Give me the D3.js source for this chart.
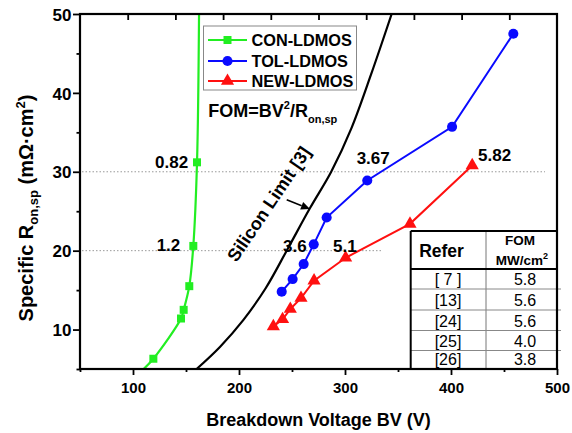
<!DOCTYPE html>
<html><head><meta charset="utf-8">
<script src="https://cdn.jsdelivr.net/npm/d3@7"></script>
<style>body{margin:0;background:#fff} svg{display:block;font-family:"Liberation Sans",Arial,sans-serif}</style>
</head><body><svg id="c" width="572" height="433"></svg>
<script>
// ---- data ----
const conBV = [110, 119.2, 145.3, 147.8, 153.1, 156.9, 160.4, 162.3];
const conR  = [5, 6.3, 11.4, 12.5, 15.5, 20.6, 31.2, 50];
const conMarker = [false, true, true, true, true, true, true, false];
const tolBV = [240.3, 250.6, 261, 270.5, 282.7, 321, 401, 458.8];
const tolR  = [14.8, 16.4, 18.3, 20.8, 24.2, 28.9, 35.7, 47.5];
const newBV = [232.4, 241.1, 248.4, 258.5, 270.8, 300.6, 361.3, 420];
const newR  = [10.4, 11.3, 12.6, 14.0, 16.2, 19.1, 23.4, 30.8];
const siBV = [160, 182, 204, 225, 245, 267, 287, 306, 325, 344];
const siR  = [5, 7.8, 11.2, 15.2, 20, 25.4, 30, 35.5, 42.5, 50];
const seriesNames = ["CON-LDMOS", "TOL-LDMOS", "NEW-LDMOS"];
const xTicks = [100, 200, 300, 400, 500];
const xMinor = [50, 150, 250, 350, 450];
const yTicks = [10, 20, 30, 40, 50];
const yMinor = [5, 15, 25, 35, 45];
const topTicks = [95, 140, 185, 230, 275, 320, 365, 410, 455];
const annText = ["0.82", "1.2", "3.67", "3.6", "5.1", "5.82"];
const annBV   = [120.8, 122.3, 311, 241.5, 288.7, 425.5];
const annR    = [30.5, 20.0, 31.0, 19.85, 19.85, 31.4];
const refLines = [30, 20];
const tableRefs = ["[ 7 ]", "[13]", "[24]", "[25]", "[26]"];
const tableFOM  = ["5.8", "5.6", "5.6", "4.0", "3.8"];

const GREEN = "#22ee22", BLUE = "#0a0aff", RED = "#ff1010";

const svg = d3.select("#c");
const L = 80, R = 557, T = 14, B = 369;
const x = d3.scaleLinear().domain([50, 500]).range([L, R]);
const y = d3.scaleLinear().domain([5, 50]).range([B, T]);

// reference dotted lines
const refEndV = [x.invert(545), x.invert(383)];
refLines.forEach((v, i) => {
  svg.append("line").attr("x1", x(50) + 2).attr("x2", x(refEndV[i]))
    .attr("y1", y(v)).attr("y2", y(v))
    .attr("stroke", "#999").attr("stroke-width", 1).attr("stroke-dasharray", "1.5,2");
});

// silicon limit
const siData = siBV.map((v, i) => [v, siR[i]]);
svg.append("path").datum(siData)
  .attr("d", d3.line().x(d => x(d[0])).y(d => y(d[1])).curve(d3.curveCatmullRom))
  .attr("fill", "none").attr("stroke", "#000").attr("stroke-width", 2.2);

// series
const conData = conBV.map((v, i) => [v, conR[i], conMarker[i]]);
const tolData = tolBV.map((v, i) => [v, tolR[i], true]);
const newData = newBV.map((v, i) => [v, newR[i], true]);

svg.append("clipPath").attr("id", "clp").append("rect")
  .attr("x", L).attr("y", T).attr("width", R - L).attr("height", B - T);

svg.append("path").datum(conData).attr("clip-path", "url(#clp)")
  .attr("d", d3.line().x(d => x(d[0])).y(d => y(d[1])).curve(d3.curveCatmullRom))
  .attr("fill", "none").attr("stroke", GREEN).attr("stroke-width", 2.2);
svg.append("path").datum(tolData)
  .attr("d", d3.line().x(d => x(d[0])).y(d => y(d[1])))
  .attr("fill", "none").attr("stroke", BLUE).attr("stroke-width", 2);
svg.append("path").datum(newData)
  .attr("d", d3.line().x(d => x(d[0])).y(d => y(d[1])))
  .attr("fill", "none").attr("stroke", RED).attr("stroke-width", 2);

const sq = d3.symbol().type(d3.symbolSquare).size(64);
const ci = d3.symbol().type(d3.symbolCircle).size(80);
const tr = d3.symbol().type(d3.symbolTriangle).size(75);
svg.selectAll(".m1").data(conData.filter(d => d[2])).join("path")
  .attr("d", sq).attr("transform", d => `translate(${x(d[0])},${y(d[1])})`).attr("fill", GREEN);
svg.selectAll(".m2").data(tolData).join("path")
  .attr("d", ci).attr("transform", d => `translate(${x(d[0])},${y(d[1])})`).attr("fill", BLUE);
svg.selectAll(".m3").data(newData).join("path")
  .attr("d", tr).attr("transform", d => `translate(${x(d[0])},${y(d[1])})`).attr("fill", RED);

// arrow to silicon limit
const arrowFrom = [245, 26.45], arrowTo = [267, 25.27];
{
  const x1 = x(arrowFrom[0]), y1 = y(arrowFrom[1]), x2 = x(arrowTo[0]), y2 = y(arrowTo[1]);
  const ang = Math.atan2(y2 - y1, x2 - x1);
  const hl = 9, hw = 4;
  const bx = x2 - hl * Math.cos(ang), by = y2 - hl * Math.sin(ang);
  svg.append("line").attr("x1", x1).attr("y1", y1).attr("x2", bx).attr("y2", by)
    .attr("stroke", "#000").attr("stroke-width", 1.6);
  svg.append("path").attr("d", `M${x2},${y2}L${bx + hw * Math.sin(ang)},${by - hw * Math.cos(ang)}L${bx - hw * Math.sin(ang)},${by + hw * Math.cos(ang)}Z`)
    .attr("fill", "#000");
}

// silicon label
svg.append("text").attr("transform", "translate(274,207.5) rotate(-56)")
  .attr("text-anchor", "middle").attr("font-size", 18).attr("font-weight", "bold").text("Silicon Limit [3]");

// annotations
annText.forEach((t, i) => {
  svg.append("text").attr("x", x(annBV[i])).attr("y", y(annR[i]))
    .attr("font-size", 17).attr("font-weight", "bold").text(t);
});

// table
const tL = 410.7, tT = 231, tHB = 269, tC = 486;
const rowB = [289, 310, 330.5, 350.5, B];
const tg = svg.append("g");
tg.append("rect").attr("x", tL).attr("y", tT).attr("width", R - tL).attr("height", B - tT).attr("fill", "#fff");
tg.append("line").attr("x1", tC).attr("x2", tC).attr("y1", tT).attr("y2", B).attr("stroke", "#777").attr("stroke-width", 1);
rowB.slice(0, 4).forEach(v => tg.append("line").attr("x1", tL).attr("x2", R + 4).attr("y1", v).attr("y2", v).attr("stroke", "#888").attr("stroke-width", 1));
tg.append("line").attr("x1", tL).attr("x2", R).attr("y1", tHB).attr("y2", tHB).attr("stroke", "#000").attr("stroke-width", 2);
tg.append("line").attr("x1", tL).attr("x2", R).attr("y1", tT).attr("y2", tT).attr("stroke", "#000").attr("stroke-width", 2);
tg.append("line").attr("x1", tL).attr("x2", tL).attr("y1", tT).attr("y2", B).attr("stroke", "#000").attr("stroke-width", 2);
tg.append("text").attr("x", 441.5).attr("y", 256.5).attr("text-anchor", "middle").attr("font-size", 17.5).attr("font-weight", "bold").text("Refer");
tg.append("text").attr("x", 520).attr("y", 245).attr("text-anchor", "middle").attr("font-size", 13.5).attr("font-weight", "bold").text("FOM");
const mw = tg.append("text").attr("x", 522).attr("y", 265).attr("text-anchor", "middle").attr("font-size", 13.5).attr("font-weight", "bold");
mw.append("tspan").text("MW/cm");
mw.append("tspan").attr("font-size", 9).attr("dy", -6).text("2");
tableRefs.forEach((r, i) => {
  const base = rowB[i] - 4;
  tg.append("text").attr("x", 448).attr("y", base).attr("text-anchor", "middle").attr("font-size", 16).text(r);
  tg.append("text").attr("x", 525).attr("y", base).attr("text-anchor", "middle").attr("font-size", 16).text(tableFOM[i]);
});

// axes
const ax = svg.append("g").attr("transform", `translate(0,${B})`)
  .call(d3.axisBottom(x).tickValues(xTicks).tickSize(6).tickFormat(d3.format("d")));
svg.append("g").attr("transform", `translate(0,${B})`)
  .call(d3.axisBottom(x).tickValues(xMinor).tickSize(3).tickFormat(""));
ax.selectAll("text").attr("y", 24).attr("dy", 0).attr("font-size", 15).attr("font-weight", "bold")
  .attr("fill", "#000").attr("font-family", "Liberation Sans, Arial, sans-serif");
const ay = svg.append("g").attr("transform", `translate(${L},0)`)
  .call(d3.axisLeft(y).tickValues(yTicks).tickSize(7).tickFormat(d3.format("d")));
svg.append("g").attr("transform", `translate(${L},0)`)
  .call(d3.axisLeft(y).tickValues(yMinor).tickSize(3.5).tickFormat(""));
ay.selectAll("text").attr("x", -8.5).attr("dy", "0.36em").attr("font-size", 17).attr("font-weight", "bold")
  .attr("fill", "#000").attr("font-family", "Liberation Sans, Arial, sans-serif");
svg.append("g").attr("transform", `translate(0,${T})`)
  .call(d3.axisBottom(x).tickValues(topTicks).tickSize(6).tickFormat(""));
svg.selectAll(".domain").remove();
svg.selectAll(".tick line").attr("stroke", "#000").attr("stroke-width", 1.8);
svg.append("rect").attr("x", L).attr("y", T).attr("width", R - L).attr("height", B - T)
  .attr("fill", "none").attr("stroke", "#000").attr("stroke-width", 2.2);

// legend
const lg = svg.append("g");
lg.append("rect").attr("x", 203.5).attr("y", 26).attr("width", 153).attr("height", 64)
  .attr("fill", "#fff").attr("stroke", "#888").attr("stroke-width", 1);
const legCol = [GREEN, BLUE, RED], legSym = [sq, ci, tr], legY = [40, 61, 81];
seriesNames.forEach((n, i) => {
  lg.append("line").attr("x1", 208).attr("x2", 247).attr("y1", legY[i]).attr("y2", legY[i]).attr("stroke", legCol[i]).attr("stroke-width", 2.2);
  lg.append("path").attr("d", legSym[i]).attr("transform", `translate(227.5,${legY[i]})`).attr("fill", legCol[i]);
  lg.append("text").attr("x", 251.5).attr("y", legY[i] + 6).attr("font-size", 16.3).attr("font-weight", "bold").text(n);
});

// FOM formula
const fm = svg.append("text").attr("x", 208.3).attr("y", 117).attr("font-size", 18).attr("font-weight", "bold");
fm.append("tspan").text("FOM=BV");
fm.append("tspan").attr("font-size", 11).attr("dy", -8).text("2");
fm.append("tspan").attr("dy", 8).text("/R");
fm.append("tspan").attr("font-size", 11).attr("dy", 6).text("on,sp");

// axis titles
svg.append("text").attr("x", (L + R) / 2).attr("y", 426).attr("text-anchor", "middle")
  .attr("font-size", 18).attr("font-weight", "bold").text("Breakdown Voltage BV (V)");
const yt = svg.append("text").attr("transform", "translate(33,208) rotate(-90)").attr("text-anchor", "middle")
  .attr("font-size", 20).attr("font-weight", "bold");
yt.append("tspan").text("Specific R");
yt.append("tspan").attr("font-size", 13).attr("dy", 5).text("on,sp");
yt.append("tspan").attr("dy", -5).text(" (m\u03A9\u00B7cm");
yt.append("tspan").attr("font-size", 13).attr("dy", -8).text("2");
yt.append("tspan").attr("dy", 8).text(")");
</script></body></html>
